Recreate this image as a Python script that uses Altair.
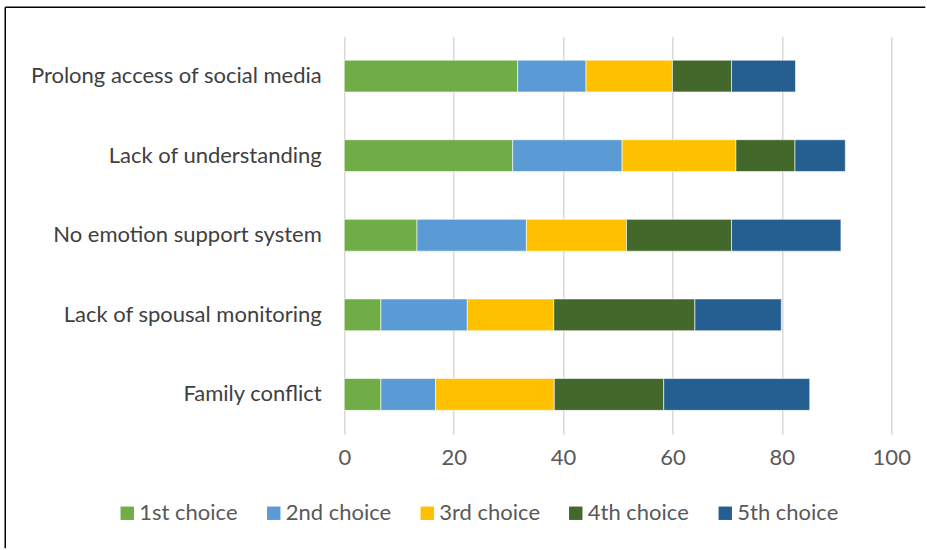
import altair as alt
import pandas as pd

categories = ["Prolong access of social media", "Lack of understanding",
              "No emotion support system", "Lack of spousal monitoring", "Family conflict"]
choices = ["1st choice", "2nd choice", "3rd choice", "4th choice", "5th choice"]
colors = ["#70AD47", "#5B9BD5", "#FFC000", "#43682B", "#255E91"]

first = [31.7, 30.8, 13.3, 6.7, 6.7]
second = [12.5, 20.0, 20.0, 15.8, 10.0]
third = [15.8, 20.8, 18.3, 15.8, 21.7]
fourth = [10.8, 10.8, 19.2, 25.8, 20.0]
fifth = [11.7, 9.2, 20.0, 15.8, 26.7]

series = [first, second, third, fourth, fifth]
rows = []
for ci, (ch, vals) in enumerate(zip(choices, series)):
    for cat, v in zip(categories, vals):
        rows.append({"category": cat, "choice": ch, "order": ci, "value": v})
df = pd.DataFrame(rows)

FONT = "Lato"
FS = 22

bars = alt.Chart(df).mark_bar(stroke="white", strokeWidth=0.6).encode(
    y=alt.Y("category:N", sort=categories, title=None,
            scale=alt.Scale(paddingInner=0.6, paddingOuter=0.3),
            axis=alt.Axis(domain=False, ticks=False, labelPadding=23,
                          labelFontSize=FS, labelColor="#404040", labelFont=FONT,
                          labelLimit=400)),
    x=alt.X("value:Q", stack="zero", title=None,
            scale=alt.Scale(domain=[0, 100], nice=False),
            axis=alt.Axis(values=[0, 20, 40, 60, 80, 100], domain=False, ticks=False,
                          grid=True, gridColor="#D9D9D9", gridWidth=1.5,
                          labelPadding=13, labelFontSize=FS, labelColor="#595959",
                          labelFont=FONT, labelFlush=False)),
    color=alt.Color("choice:N", sort=choices,
                    scale=alt.Scale(domain=choices, range=colors),
                    legend=alt.Legend(orient="none", legendX=-228, legendY=466,
                                      direction="horizontal", columns=5, title=None,
                                      symbolType="square", symbolSize=180,
                                      symbolStrokeWidth=0, columnPadding=24.5,
                                      labelFontSize=FS, labelColor="#595959",
                                      labelFont=FONT, labelOffset=1)),
    order=alt.Order("order:Q"),
)

frame_data = alt.Data(values=[{"a": 1}])
top_line = alt.Chart(frame_data).mark_rule(color="black", strokeWidth=1.5).encode(
    x=alt.value(-339), x2=alt.value(581), y=alt.value(-29))
left_line = alt.Chart(frame_data).mark_rule(color="black", strokeWidth=1.5).encode(
    x=alt.value(-339), y=alt.value(-29), y2=alt.value(512))

chart = alt.layer(bars, top_line, left_line).properties(
    width=547, height=398,
    padding={"left": 4.25, "top": 6.25, "right": 0, "bottom": 0},
    background="white",
).configure_view(stroke=None)

chart.save("out.html", embed_options={"renderer": "svg", "actions": False})
